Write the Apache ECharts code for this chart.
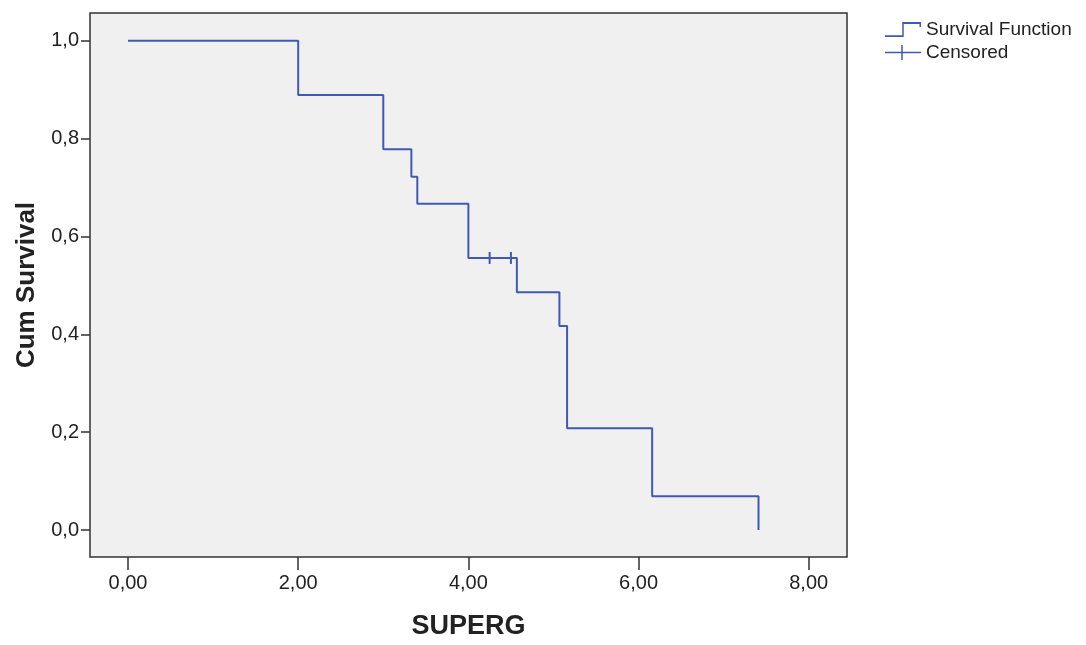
<!DOCTYPE html>
<html>
<head>
<meta charset="utf-8">
<script src="https://cdn.jsdelivr.net/npm/echarts@6/dist/echarts.min.js"></script>
<style>
html,body{margin:0;padding:0;background:#fff;}
#chart{width:1086px;height:645px;}
</style>
</head>
<body>
<div id="chart"></div>
<script>
// Kaplan-Meier step points (time, cumulative survival)
var times = [0, 2.00, 3.00, 3.33, 3.40, 4.00, 4.57, 5.07, 5.16, 6.16, 7.41];
var survival = [1.0, 0.889, 0.778, 0.722, 0.667, 0.556, 0.486, 0.417, 0.208, 0.069, 0.0];
// Censored observations
var censorTimes = [4.25, 4.50];
var censorSurv = [0.556, 0.556];
// Tick labels
var xTicks = [0, 2, 4, 6, 8];
var yTicks = [0, 0.2, 0.4, 0.6, 0.8, 1.0];

var COLOR = '#4259b2';
var FONT = '"Liberation Sans", Arial, sans-serif';

var lineData = times.map(function (t, i) { return [t, survival[i]]; });
var censorData = censorTimes.map(function (t, i) { return [t, censorSurv[i]]; });

var chart = echarts.init(document.getElementById('chart'), null, {renderer: 'canvas'});
chart.setOption({
  backgroundColor: '#ffffff',
  animation: false,
  grid: {
    left: 90, top: 13, right: 239, bottom: 86,
    show: true, backgroundColor: '#f0f0f0', borderColor: '#333333', borderWidth: 1.5,
    containLabel: false
  },
  legend: {
    orient: 'vertical',
    left: 880, top: 15,
    itemWidth: 36, itemHeight: 15, itemGap: 4,
    symbolKeepAspect: false,
    textStyle: {fontFamily: FONT, fontSize: 19, color: '#222222'},
    selectedMode: false,
    data: [
      {name: 'Survival Function',
       icon: 'path://M0,13.5 L17.25,13.5 L17.25,3 L36,3 L36,7 L34.5,7 L34.5,4.5 L18.75,4.5 L18.75,15 L0,15 Z'},
      {name: 'Censored',
       itemStyle: {color: COLOR, opacity: 1},
       icon: 'path://M0,6.75 L16.25,6.75 L16.25,0 L17.75,0 L17.75,6.75 L36,6.75 L36,8.25 L17.75,8.25 L17.75,15 L16.25,15 L16.25,8.25 L0,8.25 Z'}
    ]
  },
  xAxis: {
    type: 'value',
    min: -0.447, max: 8.45,
    name: 'SUPERG', nameLocation: 'middle', nameGap: 56,
    nameTextStyle: {fontFamily: FONT, fontSize: 27, fontWeight: 'bold', color: '#222222'},
    axisLine: {show: false, onZero: false},
    splitLine: {show: false},
    axisTick: {show: true, customValues: xTicks, length: 13, lineStyle: {color: '#333333', width: 1.5}},
    axisLabel: {customValues: xTicks, margin: 16, fontFamily: FONT, fontSize: 20, color: '#222222',
      formatter: function (v) { return v.toFixed(2).replace('.', ','); }}
  },
  yAxis: {
    type: 'value',
    min: -0.055, max: 1.0565,
    name: 'Cum Survival', nameLocation: 'middle', nameGap: 49, nameRotate: 90,
    nameTextStyle: {fontFamily: FONT, fontSize: 26, fontWeight: 'bold', color: '#222222'},
    axisLine: {show: false, onZero: false},
    splitLine: {show: false},
    axisTick: {show: true, customValues: yTicks, length: 9, lineStyle: {color: '#333333', width: 1.5}},
    axisLabel: {customValues: yTicks, margin: 11, fontFamily: FONT, fontSize: 20, color: '#222222',
      formatter: function (v) { return v.toFixed(1).replace('.', ','); }}
  },
  series: [
    {
      name: 'Survival Function',
      type: 'line',
      step: 'end',
      data: lineData,
      showSymbol: false,
      symbol: 'none',
      lineStyle: {color: COLOR, width: 2},
      itemStyle: {color: COLOR},
      z: 3
    },
    {
      name: 'Censored',
      type: 'scatter',
      data: censorData,
      symbol: 'path://M0,0 L2,0 L2,12 L0,12 Z',
      symbolSize: [2, 12],
      itemStyle: {color: COLOR, opacity: 1},
      z: 4
    }
  ]
});
</script>
</body>
</html>
